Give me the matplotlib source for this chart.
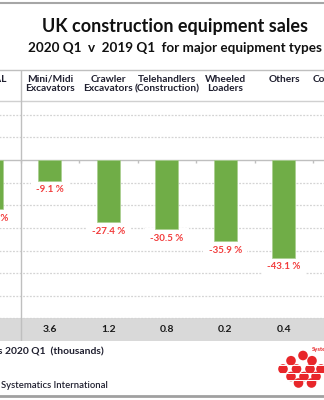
import matplotlib
matplotlib.use("Agg")
import matplotlib.pyplot as plt
from matplotlib.patches import Circle
from matplotlib.transforms import blended_transform_factory
import numpy as np

plt.rcParams['font.family'] = ['Lato', 'DejaVu Sans']

# ---------------- data ----------------
categories = ["TOTAL", "Mini/Midi\nExcavators", "Crawler\nExcavators",
              "Telehandlers\n(Construction)", "Wheeled\nLoaders", "Others",
              "Construction"]
change_pct = [-21.8, -9.1, -27.4, -30.5, -35.9, -43.1, None]
sales_2020q1 = [None, 3.6, 1.2, 0.8, 0.2, 0.4, None]
y_gridlines = [20, 10, -10, -20, -30, -40, -50, -60, -70]
title = "UK construction equipment sales"
subtitle = "2020 Q1  v  2019 Q1  for major equipment types"
sales_caption = "Sales 2020 Q1  (thousands)"
source = "Systematics International"

# ---------------- layout ----------------
W, H = 324, 400
fig = plt.figure(figsize=(W / 100, H / 100), dpi=100)

ov = fig.add_axes([0, 0, 1, 1], zorder=0)
ov.set_xlim(0, W)
ov.set_ylim(H, 0)
ov.axis('off')

n = len(categories)
step_px = 58.5
left_px = 20.7 - step_px
right_px = left_px + n * step_px
top_px, bot_px = 69.5, 341.0
ymin, ymax = -80, 40

ax = fig.add_axes([left_px / W, 1 - bot_px / H, (right_px - left_px) / W,
                   (bot_px - top_px) / H], zorder=1)
ax.set_xlim(-0.5, n - 0.5)
ax.set_ylim(ymin, ymax)
ax.patch.set_alpha(0)
ax.axis('off')

grid_c = '#d4d4d4'
line_c = '#bfbfbf'

# band for sales values
ax.axhspan(ymin, y_gridlines[-1], color='#d9d9d9', lw=0, zorder=0.5)
for g in y_gridlines:
    ax.axhline(g, color=grid_c, lw=0.9, ls=(0, (1.5, 1.2)), zorder=1)
ax.axhline(0, color=line_c, lw=1.0, zorder=2)
for b in np.arange(0.5, n - 0.5):
    ax.vlines(b, -1.3, 0, color=line_c, lw=1.0, zorder=2)
ax.axvline(0.5, ymin=0, ymax=1, color=line_c, lw=1.0, zorder=2)

# header lines (pixel coords)
ov.plot([0, W], [70, 70], color='#bfbfbf', lw=1.0, zorder=2)
ov.plot([0, W], [100.5, 100.5], color='#d0d0d0', lw=1.0, zorder=2)

# bars
for i, v in enumerate(change_pct):
    if v is None:
        continue
    ax.bar(i, v, width=0.394, color='#70ad47', edgecolor='#a9cf8f',
           linewidth=0.5, zorder=5)
    ax.annotate(f"{v:.1f} %", (i, v), xytext=(0, -6.5),
                textcoords='offset points', ha='center', va='center',
                color='#f23c3c', fontsize=7, fontweight='bold',
                bbox=dict(boxstyle='square,pad=0.55', fc='white', ec='none'),
                zorder=4)

# sales values in band
band_mid = (ymin + y_gridlines[-1]) / 2
for i, s in enumerate(sales_2020q1):
    if s is None:
        continue
    ax.text(i, band_mid, f"{s:.1f}", ha='center', va='center',
            fontsize=7.5, fontweight='bold', color='#1a1a1a', zorder=6)

# category header labels
tr = blended_transform_factory(ax.transData, ov.transData)
for i, c in enumerate(categories):
    ax.text(i, 74.5, c, transform=tr, ha='center', va='top', fontsize=7.3,
            fontweight='bold', color='#1f1f2f', linespacing=1.1, zorder=6)

# title / subtitle
ov.text(174.5, 32.3, title, ha='center', va='baseline', fontsize=13,
        fontweight='bold', color='#111111')
ov.text(174.5, 51.7, subtitle, ha='center', va='baseline', fontsize=9.7,
        fontweight='bold', color='#111111')

# footer texts
ov.text(104, 351.5, sales_caption, ha='right', va='center', fontsize=7.4,
        fontweight='bold', color='#1f1f2f')
ov.text(0.7, 386, source, ha='left', va='center', fontsize=6.8,
        fontweight='semibold', color='#1f1f2f')

# borders
ov.plot([0, W], [3, 3], color='#a6a6a6', lw=1.5, zorder=3)
ov.plot([0, W], [395.5, 395.5], color='#a0a0a0', lw=2, zorder=3)

# logo
logo_centers = [(303, 355.5), (291, 360.7), (312, 360.7), (283, 369),
                (296.5, 369), (310, 369), (321, 369), (291, 376.5),
                (304, 376.5), (316, 376.5), (298.5, 383), (311.5, 383)]
for (cx, cy) in logo_centers:
    ov.add_patch(Circle((cx, cy), 4.8, color='#e8262a', lw=0, zorder=4))
for yy in [364.8, 372.8, 380.0]:
    ov.plot([277, W], [yy, yy], color='white', lw=0.7, zorder=5)
ov.text(312, 349.5, "Systematics", ha='left', va='center', fontsize=4.2,
        fontweight='bold', color='#e8262a', zorder=6)

fig.savefig("out.png", dpi=100)
